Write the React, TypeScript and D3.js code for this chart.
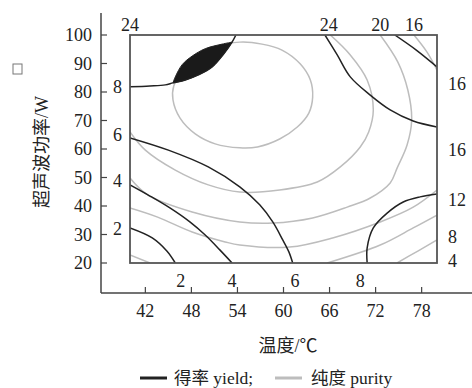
import React from 'react';
import * as d3 from 'd3';

// contour lines: [temperature, power]
const yield2 = [[40, 32.3], [42.9, 28.8], [44.8, 24.2], [45.9, 20]];
const yield4 = [[40, 47.4], [42.6, 43.5], [45.2, 39.3], [47.8, 34.4], [49.8, 29.8], [51.7, 24.6], [53.3, 20]];
const yield6 = [[40, 63.9], [45.0, 59.6], [50.2, 53.7], [54.3, 46.7], [56.9, 40.4], [58.6, 34.4], [59.9, 28.1], [60.7, 23.9], [61.2, 20]];
const yield8 = [[40, 81.8], [42.6, 82.1], [44.6, 82.5], [45.6, 83.2], [47.2, 84.2], [48.9, 86.0], [50.7, 88.8], [52.1, 93.0], [53.3, 97.5], [53.8, 100]];
const lensTop = [[45.6, 83.2], [45.9, 85.3], [46.8, 89.6], [48.1, 92.6], [49.8, 95.2], [52.0, 96.8], [53.3, 97.5]];
const yield8b = [[70.9, 20], [70.9, 25.3], [71.7, 32.3], [73.5, 37.5], [75.6, 41.4], [77.8, 43.2], [80, 44.2]];
const yield24 = [[65.4, 100], [67.0, 93.0], [68.7, 85.3], [71.3, 78.9], [73.9, 73.7], [76.9, 69.8], [80, 67.7]];
const yield16 = [[74.5, 100], [77.3, 94.7], [80, 88.8]];

const purityCore = [[54.3, 97.5], [57.2, 96.8], [59.8, 94.7], [62.2, 89.8], [63.5, 84.2], [63.8, 78.2], [63.3, 72.6], [61.8, 67.7], [59.5, 63.5], [56.6, 60.7], [54.3, 60.4], [51.1, 61.8], [48.5, 65.3], [46.5, 70.9], [45.6, 77.2], [45.7, 82.1], [46.8, 87.0], [48.7, 91.9], [51.3, 95.8]];
const purity24 = [[66.1, 100], [68.7, 93.0], [70.9, 84.2], [71.7, 73.7], [71.1, 66.0], [70.0, 60.7], [67.4, 53.7], [64.4, 48.4], [59.5, 45.6], [54.3, 44.9], [50.2, 47.4], [45.9, 52.6], [42.0, 59.6], [40, 66.0]];
const purity20 = [[72.6, 100], [74.9, 90.5], [76.2, 80.7], [76.7, 70.2], [76.1, 61.4], [74.8, 53.3], [73.9, 48.1], [71.3, 42.8], [68.3, 39.6], [63.8, 35.8], [58.6, 34.0], [54.3, 34.4], [48.1, 37.9], [42.3, 43.9], [40, 49.8]];
const purity16a = [[77.0, 100], [78.7, 94.0], [80, 87.7]];
const purity16b = [[40, 39.3], [43.6, 36.1], [48.1, 30.9], [52.4, 27.4], [54.3, 26.3], [60.8, 25.6], [66.4, 28.8], [72.6, 34.4], [76.9, 39.6], [80, 45.6]];
const purity12a = [[40, 22.8], [42.6, 20]];
const purity12b = [[65.7, 20], [72.6, 26.3], [76.9, 32.3], [80, 36.8]];
const purity8 = [[74.8, 20], [77.5, 24.2], [80, 28.1]];

const yieldLines = [yield2, yield4, yield6, yield8, yield8b, yield24, yield16];
const purityLines = [purity24, purity20, purity16a, purity16b, purity12a, purity12b, purity8];

const xTicks = [42, 48, 54, 60, 66, 72, 78];
const yTicks = [20, 30, 40, 50, 60, 70, 80, 90, 100];

// contour labels: [text, where the line meets the frame]
const topLabels: [string, number][] = [['24', 40], ['24', 65.9], ['20', 72.6], ['16', 77.0]];
const leftLabels: [string, number][] = [['8', 81.8], ['6', 64.9], ['4', 48.8], ['2', 31.9]];
const bottomLabels: [string, number][] = [['2', 46.6], ['4', 53.3], ['6', 61.5], ['8', 70.0]];
const rightLabels: [string, number][] = [['16', 82.8], ['16', 59.6], ['12', 42.1], ['8', 29.1], ['4', 20.7]];

const serif = '"Liberation Serif", "Noto Sans CJK SC", serif';

export default function App() {
  const width = 472, height = 388;
  const x = d3.scaleLinear().domain([40, 80]).range([130, 437]);
  const y = d3.scaleLinear().domain([20, 100]).range([263, 35]);

  const line = d3.line<number[]>()
    .x(d => x(d[0]))
    .y(d => y(d[1]))
    .curve(d3.curveCatmullRom.alpha(0.5));
  const closed = d3.line<number[]>()
    .x(d => x(d[0]))
    .y(d => y(d[1]))
    .curve(d3.curveCatmullRomClosed.alpha(0.5));

  // lens between the top arc and the 8 line
  const lensBottom = yield8.slice(3, 9).reverse();
  const lens = line(lensTop)! + 'L' + line(lensBottom)!.slice(1) + 'Z';

  const x0 = 101, yAxisBottom = 293;

  return (
    <svg width={width} height={height} style={{ position: 'absolute', left: 0, top: 0, background: '#fff' }}
      fontFamily={serif}>
      <defs>
        <clipPath id="box">
          <rect x={x(40)} y={y(100)} width={x(80) - x(40)} height={y(20) - y(100)} />
        </clipPath>
      </defs>

      <rect x={13} y={64} width={9} height={10} fill="none" stroke="#777" strokeWidth={1} />

      {/* outer axes */}
      <line x1={x0} x2={x0} y1={13} y2={yAxisBottom} stroke="#444" strokeWidth={1.5} />
      <line x1={x0} x2={width} y1={yAxisBottom} y2={yAxisBottom} stroke="#444" strokeWidth={1.5} />
      {yTicks.map(t => (
        <g key={'y' + t}>
          <line x1={x0} x2={x0 + 6} y1={y(t)} y2={y(t)} stroke="#444" strokeWidth={1.2} />
          <text x={x0 - 9} y={y(t)} dy="0.35em" textAnchor="end" fontSize={18} fill="#222">{t}</text>
        </g>
      ))}
      {xTicks.map(t => (
        <g key={'x' + t}>
          <line x1={x(t)} x2={x(t)} y1={yAxisBottom} y2={yAxisBottom - 6} stroke="#444" strokeWidth={1.2} />
          <text x={x(t)} y={yAxisBottom + 24} textAnchor="middle" fontSize={18} fill="#222">{t}</text>
        </g>
      ))}

      <g clipPath="url(#box)" fill="none">
        <path d={closed(purityCore)!} stroke="#bdbdbd" strokeWidth={1.5} />
        {purityLines.map((p, i) => (
          <path key={'p' + i} d={line(p)!} stroke="#bdbdbd" strokeWidth={1.5} />
        ))}
        {yieldLines.map((p, i) => (
          <path key={'b' + i} d={line(p)!} stroke="#222" strokeWidth={1.5} />
        ))}
        <path d={lens} fill="#1a1a1a" stroke="#222" strokeWidth={1} />
      </g>

      <rect x={x(40)} y={y(100)} width={x(80) - x(40)} height={y(20) - y(100)}
        fill="none" stroke="#555" strokeWidth={1.8} />

      {/* contour labels */}
      <g fontSize={18} fill="#222">
        {topLabels.map(([t, v], i) => (
          <text key={'t' + i} x={x(v)} y={y(100) - 4} textAnchor="middle">{t}</text>
        ))}
        {leftLabels.map(([t, v], i) => (
          <text key={'l' + i} x={x(40) - 8} y={y(v)} dy="0.35em" textAnchor="end">{t}</text>
        ))}
        {bottomLabels.map(([t, v], i) => (
          <text key={'bo' + i} x={x(v)} y={y(20) + 24} textAnchor="middle">{t}</text>
        ))}
        {rightLabels.map(([t, v], i) => (
          <text key={'r' + i} x={x(80) + 11} y={y(v)} dy="0.35em" textAnchor="start">{t}</text>
        ))}
      </g>

      <text transform={`translate(48,152) rotate(-90)`} textAnchor="middle" fontSize={18} fill="#222">超声波功率/W</text>
      <text x={288} y={352} textAnchor="middle" fontSize={18} fill="#222">温度/℃</text>

      <line x1={140} x2={167} y1={378} y2={378} stroke="#222" strokeWidth={3} />
      <text x={174} y={384} fontSize={17.5} fill="#222">得率 yield;</text>
      <line x1={275} x2={302} y1={378} y2={378} stroke="#bdbdbd" strokeWidth={3} />
      <text x={311} y={384} fontSize={17.5} fill="#222">纯度 purity</text>
    </svg>
  );
}
